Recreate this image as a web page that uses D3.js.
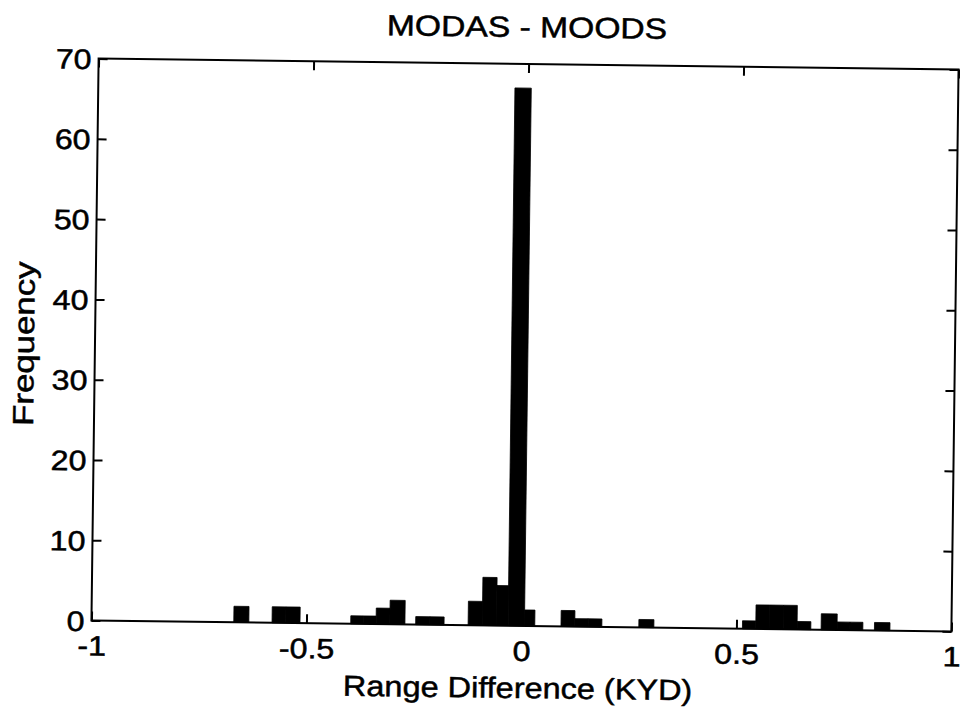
<!DOCTYPE html>
<html>
<head>
<meta charset="utf-8">
<script src="https://cdn.jsdelivr.net/npm/d3@7"></script>
<style>
  html, body { margin: 0; padding: 0; background: #fff; }
  svg { display: block; }
  text { font-family: "Liberation Sans", Arial, Helvetica, sans-serif; fill: #000; }
</style>
</head>
<body>
<svg id="chart" width="960" height="714"></svg>
<script>
// Histogram of range differences, MODAS minus MOODS (kiloyards)
const binLo  = [-0.669, -0.580, -0.548, -0.397, -0.368, -0.338, -0.306, -0.246, -0.213,
                -0.124, -0.091, -0.058, -0.031,  0.007,  0.092,  0.124,  0.155,  0.273,
                 0.514,  0.545,  0.577,  0.609,  0.641,  0.697,  0.734,  0.764,  0.821];
const binHi  = [-0.634, -0.548, -0.515, -0.368, -0.338, -0.306, -0.271, -0.213, -0.180,
                -0.091, -0.058, -0.031,  0.007,  0.031,  0.124,  0.155,  0.187,  0.308,
                 0.545,  0.577,  0.609,  0.641,  0.673,  0.734,  0.764,  0.794,  0.857];
const counts = [2, 2, 2, 1, 1, 2, 3, 1, 1,
                3, 6, 5, 67, 2, 2, 1, 1, 1,
                1, 3, 3, 3, 1, 2, 1, 1, 1];

const xTicks = [-1, -0.5, 0, 0.5, 1];
const xTickLabels = ["-1", "-0.5", "0", "0.5", "1"];
const yTicks = [0, 10, 20, 30, 40, 50, 60, 70];
const yTickLabels = ["0", "10", "20", "30", "40", "50", "60", "70"];

const titleText = "MODAS - MOODS";
const xLabelText = "Range Difference (KYD)";
const yLabelText = "Frequency";

const bins = binLo.map((lo, i) => ({ lo, hi: binHi[i], n: counts[i] }));

const W = 960, H = 714;
const plot = { left: 95, right: 955, top: 64, bottom: 626 };
const tickLen = 9;

const svg = d3.select("#chart");
svg.append("rect").attr("width", W).attr("height", H).attr("fill", "#fff");

// the whole figure sits slightly tilted on the page
const g = svg.append("g").attr("transform", "rotate(0.73, 525, 345)");

const x = d3.scaleLinear().domain([-1, 1]).range([plot.left, plot.right]);
const y = d3.scaleLinear().domain([0, 70]).range([plot.bottom, plot.top]);

// bars (thin matching outline closes the seams between neighbours)
g.append("g").selectAll("rect").data(bins).join("rect")
  .attr("x", d => x(d.lo))
  .attr("width", d => x(d.hi) - x(d.lo))
  .attr("y", d => y(d.n))
  .attr("height", d => y(0) - y(d.n))
  .attr("fill", "#000")
  .attr("stroke", "#000")
  .attr("stroke-width", 0.8);

function styleAxis(sel) {
  sel.select(".domain").remove();
  sel.selectAll(".tick line").attr("stroke", "#000").attr("stroke-width", 2);
}

const fmtX = d => xTickLabels[xTicks.indexOf(d)];
const fmtY = d => yTickLabels[yTicks.indexOf(d)];

// bottom axis with labels
const gxb = g.append("g").attr("transform", `translate(0,${plot.bottom})`)
  .call(d3.axisBottom(x).tickValues(xTicks).tickFormat(fmtX).tickSizeInner(-tickLen).tickSizeOuter(0));
styleAxis(gxb);
gxb.selectAll(".tick text")
  .attr("y", null).attr("dy", null)
  .attr("font-size", 28)
  .attr("stroke", "#000").attr("stroke-width", 0.5)
  .attr("transform", "translate(0,35) scale(1.15,1)");

// top axis, ticks only
const gxt = g.append("g").attr("transform", `translate(0,${plot.top})`)
  .call(d3.axisTop(x).tickValues(xTicks).tickFormat("").tickSizeInner(-tickLen).tickSizeOuter(0));
styleAxis(gxt);

// left axis with labels
const gyl = g.append("g").attr("transform", `translate(${plot.left},0)`)
  .call(d3.axisLeft(y).tickValues(yTicks).tickFormat(fmtY).tickSizeInner(-tickLen).tickSizeOuter(0));
styleAxis(gyl);
gyl.selectAll(".tick text")
  .attr("x", null).attr("dy", null)
  .attr("font-size", 28)
  .attr("text-anchor", "end")
  .attr("stroke", "#000").attr("stroke-width", 0.5)
  .attr("transform", "translate(-7,10) scale(1.15,1)");

// right axis, ticks only
const gyr = g.append("g").attr("transform", `translate(${plot.right},0)`)
  .call(d3.axisRight(y).tickValues(yTicks).tickFormat("").tickSizeInner(-tickLen).tickSizeOuter(0));
styleAxis(gyr);

// frame
g.append("rect")
  .attr("x", plot.left).attr("y", plot.top)
  .attr("width", plot.right - plot.left).attr("height", plot.bottom - plot.top)
  .attr("fill", "none").attr("stroke", "#000").attr("stroke-width", 2);

// title and axis labels
function label(txt, tx, ty, rot, sx) {
  g.append("text")
    .attr("text-anchor", "middle")
    .attr("font-size", 29)
    .attr("stroke", "#000").attr("stroke-width", 0.5)
    .attr("transform", `translate(${tx},${ty}) rotate(${rot}) scale(${sx},1)`)
    .text(txt);
}
label(titleText, 523, 37, 0, 1.16);
label(xLabelText, 522, 698, 0, 1.12);
label(yLabelText, 34, 350, -90, 1.2);
</script>
</body>
</html>
